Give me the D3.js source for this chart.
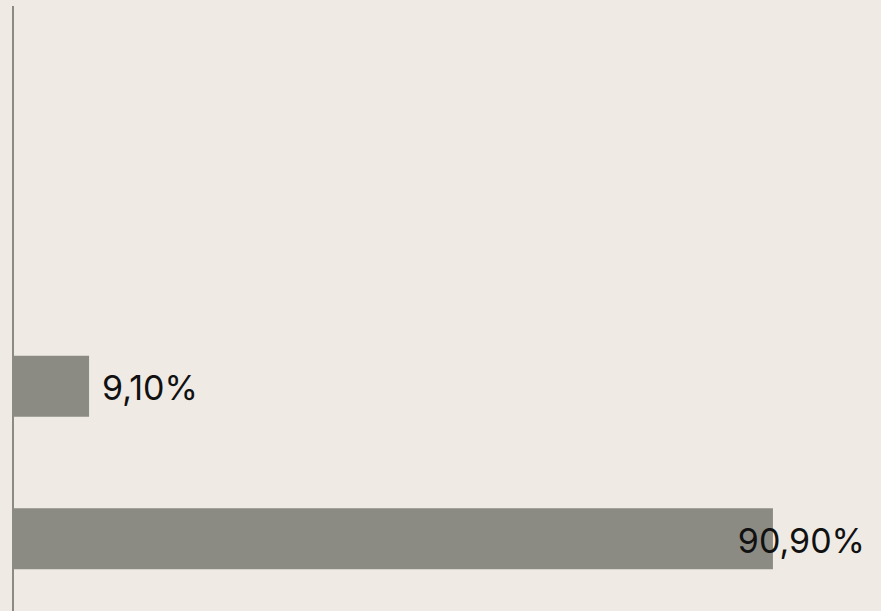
<!DOCTYPE html>
<html>
<head>
<meta charset="utf-8">
<script src="https://cdn.jsdelivr.net/npm/d3@7"></script>
<style>
  html, body { margin: 0; padding: 0; background: #efebe4; }
  svg { display: block; }
</style>
</head>
<body>
<div id="chart"></div>
<script>
const categories = ["cat1", "cat2", "cat3", "cat4"];
const values = [null, null, 9.1, 90.9];
const labels = ["", "", "9,10%", "90,90%"];

const width = 881, height = 611;

const svg = d3.select("#chart").append("svg")
    .attr("width", width)
    .attr("height", height);

svg.append("rect")
    .attr("width", width)
    .attr("height", height)
    .attr("fill", "#efebe4");

const x = d3.scaleLinear().domain([0, 100]).range([13, 849]);
const y = d3.scaleBand().domain(categories).range([5, 615])
    .paddingInner(0.6).paddingOuter(0.3);

const rows = categories.map((c, i) => ({ cat: c, value: values[i], label: labels[i] }))
    .filter(d => d.value != null);

svg.append("g")
    .selectAll("rect")
    .data(rows)
    .enter()
    .append("rect")
    .attr("x", x(0))
    .attr("y", d => y(d.cat))
    .attr("width", d => x(d.value) - x(0))
    .attr("height", y.bandwidth())
    .attr("fill", "#8b8b84");

// left axis line
svg.append("line")
    .attr("x1", 13).attr("x2", 13)
    .attr("y1", 6).attr("y2", height)
    .attr("stroke", "#8b8b84")
    .attr("stroke-width", 2);

const txt = svg.append("g")
    .selectAll("text")
    .data(rows)
    .enter()
    .append("text")
    .attr("y", d => y(d.cat) + y.bandwidth() / 2 + 2)
    .attr("dy", "0.35em")
    .attr("font-family", "Inter, sans-serif")
    .attr("font-size", 34)
    .attr("fill", "#111")
    .text(d => d.label);

// keep labels inside the chart
txt.each(function(d) {
    const w = this.getComputedTextLength();
    let px = x(d.value) + 13;
    if (px + w > width - 16) px = width - 16 - w;
    d3.select(this).attr("x", px);
});
</script>
</body>
</html>
